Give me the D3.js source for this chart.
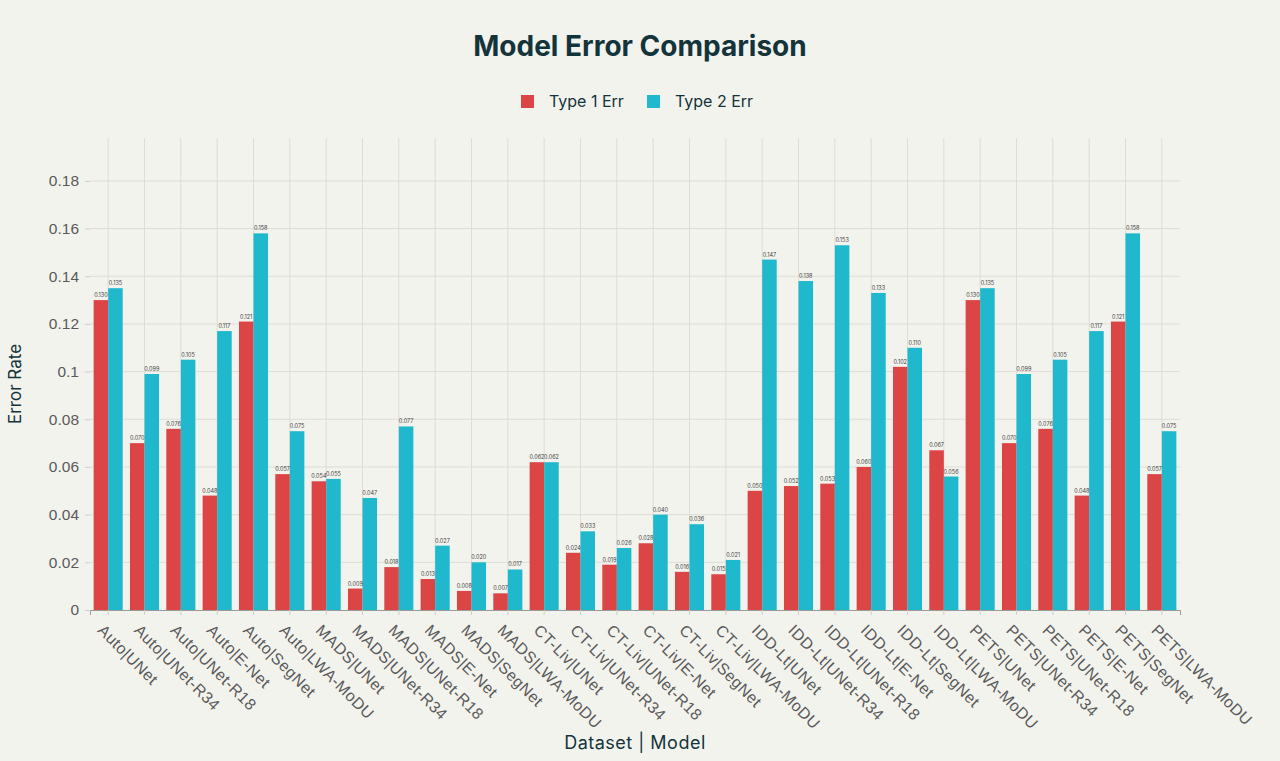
<!DOCTYPE html>
<html>
<head>
<meta charset="utf-8">
<script src="https://cdn.jsdelivr.net/npm/d3@7"></script>
<style>
  body { margin: 0; background: #F3F3EE; }
  svg { display: block; font-family: "Inter", "Lato", sans-serif; }
</style>
</head>
<body>
<div id="chart"></div>
<script>
// categories and values
const categories = [
  "Auto|UNet", "Auto|UNet-R34", "Auto|UNet-R18", "Auto|E-Net", "Auto|SegNet", "Auto|LWA-MoDU",
  "MADS|UNet", "MADS|UNet-R34", "MADS|UNet-R18", "MADS|E-Net", "MADS|SegNet", "MADS|LWA-MoDU",
  "CT-Liv|UNet", "CT-Liv|UNet-R34", "CT-Liv|UNet-R18", "CT-Liv|E-Net", "CT-Liv|SegNet", "CT-Liv|LWA-MoDU",
  "IDD-Lt|UNet", "IDD-Lt|UNet-R34", "IDD-Lt|UNet-R18", "IDD-Lt|E-Net", "IDD-Lt|SegNet", "IDD-Lt|LWA-MoDU",
  "PETS|UNet", "PETS|UNet-R34", "PETS|UNet-R18", "PETS|E-Net", "PETS|SegNet", "PETS|LWA-MoDU"
];
const type1Err = [
  0.130, 0.070, 0.076, 0.048, 0.121, 0.057,
  0.054, 0.009, 0.018, 0.013, 0.008, 0.007,
  0.062, 0.024, 0.019, 0.028, 0.016, 0.015,
  0.050, 0.052, 0.053, 0.060, 0.102, 0.067,
  0.130, 0.070, 0.076, 0.048, 0.121, 0.057
];
const type2Err = [
  0.135, 0.099, 0.105, 0.117, 0.158, 0.075,
  0.055, 0.047, 0.077, 0.027, 0.020, 0.017,
  0.062, 0.033, 0.026, 0.040, 0.036, 0.021,
  0.147, 0.138, 0.153, 0.133, 0.110, 0.056,
  0.135, 0.099, 0.105, 0.117, 0.158, 0.075
];
const seriesNames = ["Type 1 Err", "Type 2 Err"];
const colors = ["#DB4545", "#1FB8CD"];
const yTicks = [0, 0.02, 0.04, 0.06, 0.08, 0.1, 0.12, 0.14, 0.16, 0.18];

const width = 1280, height = 761;
const margin = {top: 138, right: 100, bottom: 151, left: 90};

const svg = d3.select("#chart").append("svg")
  .attr("width", width)
  .attr("height", height);

svg.append("rect").attr("width", width).attr("height", height).attr("fill", "#F3F3EE");

const x = d3.scaleBand()
  .domain(categories)
  .range([margin.left, width - margin.right]);

const xSub = d3.scaleBand()
  .domain(seriesNames)
  .range([0, x.bandwidth()])
  .paddingOuter(0.25);

const y = d3.scaleLinear()
  .domain([0, 0.198])
  .range([height - margin.bottom, margin.top]);

// grid
const grid = svg.append("g").attr("stroke", "#DDDDD6").attr("stroke-width", 1);
grid.selectAll("line.h").data(yTicks.slice(1)).join("line")
  .attr("x1", margin.left).attr("x2", width - margin.right)
  .attr("y1", d => y(d)).attr("y2", d => y(d));
grid.selectAll("line.v").data(categories).join("line")
  .attr("x1", d => x(d) + x.bandwidth() / 2).attr("x2", d => x(d) + x.bandwidth() / 2)
  .attr("y1", margin.top).attr("y2", height - margin.bottom);

// y axis
const yAxis = svg.append("g")
  .attr("transform", `translate(${margin.left},0)`)
  .call(d3.axisLeft(y).tickValues(yTicks).tickSize(5).tickPadding(6).tickFormat(d => d3.format("")(+d.toFixed(2))));
yAxis.select(".domain").remove();
yAxis.selectAll(".tick line").attr("stroke", "#CFCFCA");
yAxis.selectAll("text").attr("fill", "#5A5A5A").attr("font-size", 15.5);

// bars
const data = categories.map((c, i) => ({cat: c, vals: [type1Err[i], type2Err[i]]}));
const groups = svg.append("g").selectAll("g").data(data).join("g")
  .attr("transform", d => `translate(${x(d.cat)},0)`);

groups.selectAll("rect").data(d => d.vals.map((v, k) => ({k, v}))).join("rect")
  .attr("x", d => xSub(seriesNames[d.k]))
  .attr("width", xSub.bandwidth())
  .attr("y", d => y(d.v))
  .attr("height", d => y(0) - y(d.v))
  .attr("fill", d => colors[d.k]);

groups.selectAll("text").data(d => d.vals.map((v, k) => ({k, v}))).join("text")
  .attr("x", d => xSub(seriesNames[d.k]) + xSub.bandwidth() / 2)
  .attr("y", d => y(d.v) - 3)
  .attr("text-anchor", "middle")
  .attr("font-size", 5.5)
  .attr("fill", "#444")
  .text(d => d3.format(".3f")(d.v));

// x axis
const xAxis = svg.append("g")
  .attr("transform", `translate(0,${y(0)})`)
  .call(d3.axisBottom(x).tickSize(5).tickPadding(4));
xAxis.select(".domain").attr("stroke", "#9A9A96");
xAxis.selectAll(".tick line").attr("stroke", "#CFCFCA");
xAxis.selectAll("text")
  .attr("fill", "#5A5A5A")
  .attr("font-size", 16)
  .attr("letter-spacing", 0.4)
  .attr("text-anchor", "start")
  .attr("transform", "translate(-1,11) rotate(45)")
  .attr("dy", "0.35em");

// titles
svg.append("text")
  .attr("x", 640).attr("y", 56)
  .attr("text-anchor", "middle")
  .attr("font-size", 28).attr("font-weight", "bold")
  .attr("fill", "#13343B")
  .text("Model Error Comparison");

svg.append("text")
  .attr("x", (margin.left + width - margin.right) / 2).attr("y", 749)
  .attr("text-anchor", "middle")
  .attr("font-size", 18).attr("letter-spacing", 0.5).attr("fill", "#13343B")
  .text("Dataset | Model");

svg.append("text")
  .attr("transform", `translate(21,${(margin.top + height - margin.bottom) / 2 + 10}) rotate(-90)`)
  .attr("text-anchor", "middle")
  .attr("font-size", 17).attr("fill", "#13343B")
  .text("Error Rate");

// legend
const legend = svg.append("g").attr("transform", "translate(521,101)");
const legendX = [0, 126];
seriesNames.forEach((name, i) => {
  legend.append("rect")
    .attr("x", legendX[i]).attr("y", -6)
    .attr("width", 13).attr("height", 13)
    .attr("fill", colors[i]);
  legend.append("text")
    .attr("x", legendX[i] + 28).attr("y", 6)
    .attr("font-size", 16).attr("fill", "#13343B")
    .text(name);
});
</script>
</body>
</html>
